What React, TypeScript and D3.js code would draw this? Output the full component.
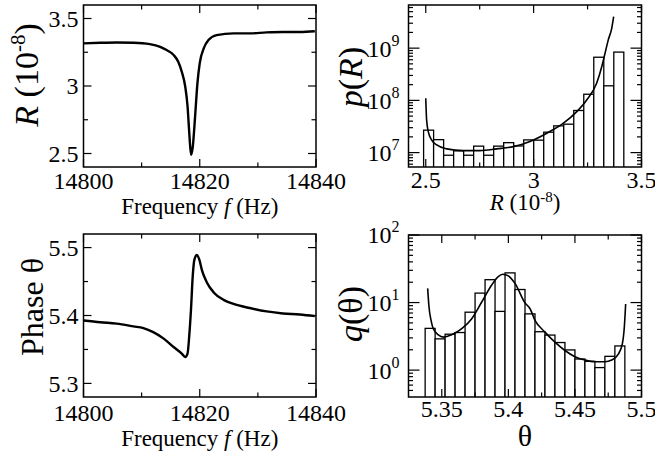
import * as d3 from "d3";

// R(f) trace
const freqR = [14800, 14802.9, 14805.7, 14808.6, 14811.4, 14813.2, 14814.3, 14815.5, 14816.3, 14816.9, 14817.5, 14817.9, 14818.2, 14818.5, 14818.8, 14819.2, 14819.6, 14820.0, 14820.7, 14821.5, 14822.9, 14825.8, 14828.6, 14831.5, 14834.3, 14837.2, 14839.8];
const rValues = [3.316, 3.32, 3.322, 3.32, 3.31, 3.29, 3.266, 3.23, 3.18, 3.107, 2.996, 2.85, 2.65, 2.49, 2.55, 2.775, 3.02, 3.17, 3.28, 3.34, 3.377, 3.39, 3.39, 3.397, 3.4, 3.4, 3.406];

// phase trace, bottom-left panel
const freqTheta = [14800, 14802.9, 14805.7, 14808.6, 14810.3, 14812.0, 14813.8, 14815.5, 14816.9, 14817.5, 14817.9, 14818.2, 14818.5, 14818.8, 14819.1, 14819.5, 14819.9, 14820.4, 14821.2, 14822.4, 14824.1, 14825.8, 14828.6, 14831.5, 14834.3, 14837.2, 14839.8];
const thetaValues = [5.3927, 5.39, 5.388, 5.384, 5.3815, 5.3756, 5.366, 5.3536, 5.344, 5.339, 5.344, 5.371, 5.41, 5.459, 5.483, 5.489, 5.483, 5.466, 5.449, 5.434, 5.423, 5.417, 5.411, 5.406, 5.403, 5.4015, 5.399];

// histogram p(R), 20 bins
const pRBinStart = 2.49;
const pRBinWidth = 0.0464;
const pRCounts = [2.69e7, 1.77e7, 8.9e6, 1.08e7, 8.9e6, 1.33e7, 8.9e6, 1.33e7, 1.55e7, 1.34e7, 1.75e7, 1.73e7, 2.46e7, 3.25e7, 3.5e7, 6.4e7, 1.31e8, 6.7e8, 1.9e8, 8.4e8];
// fitted curve p(R)
const pRCurveX = [2.5, 2.504, 2.512, 2.527, 2.551, 2.597, 2.674, 2.751, 2.829, 2.906, 2.983, 3.061, 3.138, 3.2, 3.246, 3.292, 3.316, 3.331, 3.346, 3.362, 3.371];
const pRCurveY = [1.1e8, 4.2e7, 2.5e7, 1.75e7, 1.4e7, 1.18e7, 1.09e7, 1.09e7, 1.18e7, 1.3e7, 1.63e7, 2.35e7, 3.66e7, 6.1e7, 1.02e8, 2.13e8, 4.45e8, 8e8, 1.44e9, 2.4e9, 4e9];

// histogram q(theta), 20 bins
const qBinStart = 5.3375;
const qBinWidth = 0.0075;
const qCounts = [4.15, 2.9, 3.4, 3.6, 7.2, 13.8, 21.8, 7.4, 27.5, 15.6, 6.8, 3.7, 3.3, 2.56, 1.99, 1.46, 1.35, 1.09, 1.6, 2.28];
const qCurveX = [5.3394, 5.3404, 5.3419, 5.3436, 5.3474, 5.3511, 5.3574, 5.365, 5.3725, 5.38, 5.3875, 5.3924, 5.3958, 5.4, 5.405, 5.4125, 5.4163, 5.42, 5.4275, 5.435, 5.4425, 5.45, 5.4575, 5.465, 5.4726, 5.4776, 5.4826, 5.4856, 5.4871, 5.4881];
const qCurveY = [16.2, 8.6, 5.5, 4.1, 3.33, 3.08, 3.33, 4.1, 5.77, 10.2, 18.2, 24.2, 26.2, 24.8, 19.2, 9.9, 8.1, 5.46, 3.65, 2.59, 1.95, 1.58, 1.41, 1.33, 1.33, 1.41, 1.73, 2.44, 4.34, 9.5];

// tick values
const freqTicks = [14800, 14820, 14840];
const freqMinor = [14810, 14830];
const rTicks = [2.5, 3, 3.5];
const rMinor = [2.75, 3.25];
const thetaTicks = [5.3, 5.4, 5.5];
const thetaMinor = [5.35, 5.45];
const rHistTicks = [2.5, 3, 3.5];
const rHistMinor = [2.75, 3.25];
const qHistTicks = [5.35, 5.4, 5.45, 5.5];
const qHistMinor = [5.375, 5.425, 5.475];

const FONT = "Liberation Serif";
const MAJ = 8;
const MIN = 4.5;

type Box = { x0: number; x1: number; y0: number; y1: number };

function Ticks({ b, xs, ys, xMaj, xMin, yMaj, yMin, yLog }: any) {
  const els: any[] = [];
  xMaj.forEach((v: number, i: number) => {
    const x = xs(v);
    els.push(<line key={"xM" + i} x1={x} x2={x} y1={b.y1} y2={b.y1 - MAJ} />);
    els.push(<line key={"xMt" + i} x1={x} x2={x} y1={b.y0} y2={b.y0 + MAJ} />);
  });
  xMin.forEach((v: number, i: number) => {
    const x = xs(v);
    els.push(<line key={"xm" + i} x1={x} x2={x} y1={b.y1} y2={b.y1 - MIN} />);
    els.push(<line key={"xmt" + i} x1={x} x2={x} y1={b.y0} y2={b.y0 + MIN} />);
  });
  const yl = yLog ? 11 : MAJ;
  yMaj.forEach((v: number, i: number) => {
    const y = ys(v);
    els.push(<line key={"yM" + i} x1={b.x0} x2={b.x0 + yl} y1={y} y2={y} />);
    els.push(<line key={"yMr" + i} x1={b.x1} x2={b.x1 - yl} y1={y} y2={y} />);
  });
  yMin.forEach((v: number, i: number) => {
    const y = ys(v);
    els.push(<line key={"ym" + i} x1={b.x0} x2={b.x0 + MIN} y1={y} y2={y} />);
    els.push(<line key={"ymr" + i} x1={b.x1} x2={b.x1 - MIN} y1={y} y2={y} />);
  });
  return <g stroke="#000" strokeWidth={1.2}>{els}</g>;
}

function logMinor(domain: number[]) {
  const out: number[] = [];
  const lo = Math.floor(Math.log10(domain[0]));
  const hi = Math.ceil(Math.log10(domain[1]));
  for (let d = lo; d <= hi; d++) {
    for (let k = 2; k <= 9; k++) {
      const v = k * Math.pow(10, d);
      if (v > domain[0] && v < domain[1]) out.push(v);
    }
  }
  return out;
}

export default function App() {
  // top-left
  const bTL: Box = { x0: 83.5, x1: 316, y0: 5, y1: 167 };
  const xF1 = d3.scaleLinear().domain([14800, 14840]).range([bTL.x0, bTL.x1]);
  const yR = d3.scaleLinear().domain([2.4, 3.6]).range([bTL.y1, bTL.y0]);
  const lineR = d3.line<number>().x((_, i) => xF1(freqR[i])).y((d) => yR(d)).curve(d3.curveMonotoneX);

  // bottom-left
  const bBL: Box = { x0: 83.5, x1: 316, y0: 234, y1: 397 };
  const xF2 = d3.scaleLinear().domain([14800, 14840]).range([bBL.x0, bBL.x1]);
  const yT = d3.scaleLinear().domain([5.28, 5.52]).range([bBL.y1, bBL.y0]);
  const lineT = d3.line<number>().x((_, i) => xF2(freqTheta[i])).y((d) => yT(d)).curve(d3.curveMonotoneX);

  // top-right
  const bTR: Box = { x0: 408.5, x1: 641.5, y0: 5, y1: 167 };
  const xRH = d3.scaleLinear().domain([2.42, 3.5]).range([bTR.x0, bTR.x1]);
  const pDom = [5.3e6, 6.7e9];
  const yP = d3.scaleLog().domain(pDom).range([bTR.y1, bTR.y0]);
  const curveP = d3.line<number>().x((_, i) => xRH(pRCurveX[i])).y((d) => yP(d)).curve(d3.curveMonotoneX);

  // bottom-right
  const bBR: Box = { x0: 408.5, x1: 641.5, y0: 235, y1: 397 };
  const xQH = d3.scaleLinear().domain([5.325, 5.5]).range([bBR.x0, bBR.x1]);
  const qDom = [0.4, 100];
  const yQ = d3.scaleLog().domain(qDom).range([bBR.y1, bBR.y0]);
  const curveQ = d3.line<number>().x((_, i) => xQH(qCurveX[i])).y((d) => yQ(d)).curve(d3.curveMonotoneX);

  const frame = (b: Box) => (
    <rect x={b.x0} y={b.y0} width={b.x1 - b.x0} height={b.y1 - b.y0} fill="none" stroke="#000" strokeWidth={1.5} />
  );

  const pMaj = [1e7, 1e8, 1e9];
  const qMaj = [1, 10, 100];

  return (
    <svg width={655} height={456} style={{ position: "absolute", left: 0, top: 0 }}>
      <rect width={655} height={456} fill="#fff" />
      <defs>
        <clipPath id="cTR"><rect x={bTR.x0} y={bTR.y0} width={bTR.x1 - bTR.x0} height={bTR.y1 - bTR.y0} /></clipPath>
        <clipPath id="cBR"><rect x={bBR.x0} y={bBR.y0} width={bBR.x1 - bBR.x0} height={bBR.y1 - bBR.y0} /></clipPath>
      </defs>

      {/* top-left: R vs f */}
      <path d={lineR(rValues) || ""} fill="none" stroke="#000" strokeWidth={2.4} />
      {frame(bTL)}
      <Ticks b={bTL} xs={xF1} ys={yR} xMaj={freqTicks} xMin={freqMinor} yMaj={rTicks} yMin={rMinor} />
      {freqTicks.map((t) => <text key={t} fontFamily={FONT} fontSize={24} textAnchor="middle" x={xF1(t)} y={189}>{t}</text>)}
      {rTicks.map((t) => <text key={t} fontFamily={FONT} fontSize={24} textAnchor="end" x={bTL.x0 - 5} y={yR(t)} dy="0.35em">{t}</text>)}
      <text fontFamily={FONT} x={(bTL.x0 + bTL.x1) / 2} y={214} fontSize={23} textAnchor="middle">
        Frequency <tspan fontStyle="italic">f</tspan> (Hz)
      </text>
      <text fontFamily={FONT} transform="translate(38,75) rotate(-90)" fontSize={34} textAnchor="middle">
        <tspan fontStyle="italic">R</tspan> (10<tspan fontSize={21} dy={-13}>-8</tspan><tspan dy={13}>)</tspan>
      </text>

      {/* bottom-left: phase vs f */}
      <path d={lineT(thetaValues) || ""} fill="none" stroke="#000" strokeWidth={2.4} />
      {frame(bBL)}
      <Ticks b={bBL} xs={xF2} ys={yT} xMaj={freqTicks} xMin={freqMinor} yMaj={thetaTicks} yMin={thetaMinor} />
      {freqTicks.map((t) => <text key={t} fontFamily={FONT} fontSize={24} textAnchor="middle" x={xF2(t)} y={421}>{t}</text>)}
      {thetaTicks.map((t) => <text key={t} fontFamily={FONT} fontSize={24} textAnchor="end" x={bBL.x0 - 5} y={yT(t)} dy="0.35em">{t}</text>)}
      <text fontFamily={FONT} x={(bBL.x0 + bBL.x1) / 2} y={446} fontSize={23} textAnchor="middle">
        Frequency <tspan fontStyle="italic">f</tspan> (Hz)
      </text>
      <text fontFamily={FONT} transform="translate(43,307) rotate(-90)" fontSize={32} textAnchor="middle">Phase θ</text>

      {/* top-right: p(R) histogram */}
      <g clipPath="url(#cTR)" fill="#fff" stroke="#000" strokeWidth={1.3}>
        {pRCounts.map((c, i) => {
          const xa = xRH(pRBinStart + i * pRBinWidth);
          const xb = xRH(pRBinStart + (i + 1) * pRBinWidth);
          return <rect key={i} x={xa} y={yP(c)} width={xb - xa} height={bTR.y1 + 5 - yP(c)} />;
        })}
        <path d={curveP(pRCurveY) || ""} fill="none" strokeWidth={1.6} />
      </g>
      {frame(bTR)}
      <Ticks b={bTR} xs={xRH} ys={yP} xMaj={rHistTicks} xMin={rHistMinor} yMaj={pMaj} yMin={logMinor(pDom)} yLog />
      {rHistTicks.map((t) => <text key={t} fontFamily={FONT} fontSize={24} textAnchor="middle" x={xRH(t)} y={188}>{t}</text>)}
      {pMaj.map((t) => (
        <text key={t} fontFamily={FONT} fontSize={24} textAnchor="end" x={bTR.x0 - 9} y={yP(t)} dy="0.35em">
          10<tspan fontSize={16} dy={-11}>{Math.round(Math.log10(t))}</tspan>
        </text>
      ))}
      <text fontFamily={FONT} x={(bTR.x0 + bTR.x1) / 2} y={210} fontSize={23} textAnchor="middle">
        <tspan fontStyle="italic">R</tspan> (10<tspan fontSize={15} dy={-8}>-8</tspan><tspan dy={8}>)</tspan>
      </text>
      <text fontFamily={FONT} transform="translate(362,77) rotate(-90)" fontSize={34} textAnchor="middle">
        <tspan fontStyle="italic">p</tspan>(<tspan fontStyle="italic">R</tspan>)
      </text>

      {/* bottom-right: q(theta) histogram */}
      <g clipPath="url(#cBR)" fill="#fff" stroke="#000" strokeWidth={1.3}>
        {qCounts.map((c, i) => {
          const xa = xQH(qBinStart + i * qBinWidth);
          const xb = xQH(qBinStart + (i + 1) * qBinWidth);
          return <rect key={i} x={xa} y={yQ(c)} width={xb - xa} height={bBR.y1 + 5 - yQ(c)} />;
        })}
        <path d={curveQ(qCurveY) || ""} fill="none" strokeWidth={1.6} />
      </g>
      {frame(bBR)}
      <Ticks b={bBR} xs={xQH} ys={yQ} xMaj={qHistTicks} xMin={qHistMinor} yMaj={qMaj} yMin={logMinor(qDom)} yLog />
      {qHistTicks.map((t) => <text key={t} fontFamily={FONT} fontSize={24} textAnchor="middle" x={xQH(t)} y={417}>{t}</text>)}
      {qMaj.map((t) => (
        <text key={t} fontFamily={FONT} fontSize={24} textAnchor="end" x={bBR.x0 - 9} y={yQ(t)} dy="0.35em">
          10<tspan fontSize={16} dy={-11}>{Math.round(Math.log10(t))}</tspan>
        </text>
      ))}
      <text fontFamily={FONT} x={(bBR.x0 + bBR.x1) / 2} y={446} fontSize={30} textAnchor="middle">θ</text>
      <text fontFamily={FONT} transform="translate(362,314) rotate(-90)" fontSize={34} textAnchor="middle">
        <tspan fontStyle="italic">q</tspan>(θ)
      </text>
    </svg>
  );
}
